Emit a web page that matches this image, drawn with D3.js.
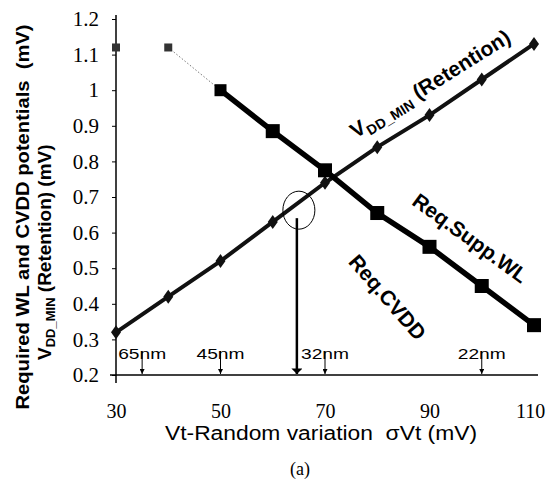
<!DOCTYPE html>
<html><head><meta charset="utf-8">
<script src="https://cdn.jsdelivr.net/npm/d3@7"></script>
<style>
body{margin:0;background:#fff}svg{display:block}
.sans{font-family:"Liberation Sans",Arial,Helvetica,sans-serif}
.serif{font-family:"Liberation Serif","Times New Roman",Times,serif}
.pre{white-space:pre}
</style>
</head><body><svg id="c" width="548" height="488"></svg>
<script>
// ---- data ----
const sigmaVt = [30, 40, 50, 60, 70, 80, 90, 100, 110];
const vddMinRetention = [0.32, 0.42, 0.52, 0.63, 0.74, 0.84, 0.93, 1.03, 1.13];
const reqSuppWL = [1.12, 1.12, 1.0, 0.885, 0.775, 0.655, 0.56, 0.45, 0.34];
const yTicks = [0.2, 0.3, 0.4, 0.5, 0.6, 0.7, 0.8, 0.9, 1.0, 1.1, 1.2];
const yTickLabels = ["0.2","0.3","0.4","0.5","0.6","0.7","0.8","0.9","1","1.1","1.2"];
const xTicks = [30, 50, 70, 90, 110];
const nodeLabels = ["65nm", "45nm", "32nm", "22nm"];
const nodeSigma = [35, 50, 70, 100];
const markedSigma = 65;
const markedValue = 0.663;

// ---- setup ----
const svg = d3.select("#c");
const x = d3.scaleLinear().domain([30, 110]).range([116, 534]);
const y = d3.scaleLinear().domain([0.2, 1.2]).range([375, 19]);
const serifStack = '"Liberation Serif", "Times New Roman", serif';

// axes
const yAxis = svg.append("g").attr("transform", `translate(${x(30)},0)`)
  .call(d3.axisLeft(y).tickValues(yTicks).tickSize(4).tickPadding(13)
    .tickFormat((d, i) => yTickLabels[i]));
yAxis.attr("font-family", null).attr("font-size", null);
yAxis.select(".domain").remove();
yAxis.selectAll("text").style("font-family", serifStack).style("font-size", "21px").attr("fill", "#000");
yAxis.selectAll("line").attr("stroke", "#000").attr("stroke-width", 1);

const xAxis = svg.append("g").attr("transform", `translate(0,${y(0.2)})`)
  .call(d3.axisBottom(x).tickValues(xTicks).tickSize(0).tickPadding(29).tickFormat(d3.format("d")));
xAxis.attr("font-family", null).attr("font-size", null);
xAxis.select(".domain").remove();
xAxis.selectAll("text").style("font-family", serifStack).style("font-size", "20px").attr("fill", "#000")
  .attr("dx", d => d === 110 ? -4 : 0);

// axis lines
svg.append("line").attr("x1", x(30)).attr("x2", x(30)).attr("y1", y(1.2) - 4).attr("y2", y(0.2) + 8)
  .attr("stroke", "#000").attr("stroke-width", 1.5);
svg.append("line").attr("x1", x(30) - 6).attr("x2", x(110) + 4).attr("y1", y(0.2)).attr("y2", y(0.2))
  .attr("stroke", "#000").attr("stroke-width", 1.5);

// markers
const defs = svg.append("defs");
defs.append("marker").attr("id", "sm").attr("viewBox", "0 0 10 10").attr("refX", 10).attr("refY", 5)
  .attr("markerWidth", 5).attr("markerHeight", 5).attr("orient", "auto")
  .append("path").attr("d", "M0,0L10,5L0,10Z").attr("fill", "#000");
defs.append("marker").attr("id", "big").attr("viewBox", "0 0 10 20").attr("refX", 10).attr("refY", 10)
  .attr("markerWidth", 22).attr("markerHeight", 11).attr("markerUnits", "userSpaceOnUse").attr("orient", "auto")
  .append("path").attr("d", "M0,0L10,10L0,20Z").attr("fill", "#000");

// technology node ticks
nodeSigma.forEach((s, i) => {
  svg.append("line").attr("x1", x(s)).attr("x2", x(s)).attr("y1", 351).attr("y2", y(0.2) - 1)
    .attr("stroke", "#000").attr("stroke-width", 1).attr("marker-end", "url(#sm)");
  svg.append("text").attr("class", "sans").attr("x", x(s)).attr("y", 359).attr("text-anchor", "middle")
    .style("font-size", "15px").attr("textLength", 48)
    .attr("lengthAdjust", "spacingAndGlyphs").text(nodeLabels[i]);
});

// lines
const pts1 = sigmaVt.map((s, i) => [x(s), y(vddMinRetention[i])]);
const pts2 = sigmaVt.map((s, i) => [x(s), y(reqSuppWL[i])]);
const line = d3.line();

svg.append("path").attr("d", line(pts1)).attr("fill", "none").attr("stroke", "#111").attr("stroke-width", 4);
// gaps inside circle
svg.append("path").attr("d", line([[x(63.2), y(0.645)], [x(64.4), y(0.657)]]))
  .attr("stroke", "#fff").attr("stroke-width", 6);
svg.append("path").attr("d", line([[x(65.6), y(0.670)], [x(66.6), y(0.681)]]))
  .attr("stroke", "#fff").attr("stroke-width", 6);

svg.selectAll(".dia").data(pts1).join("path").attr("class", "dia")
  .attr("transform", d => `translate(${d[0]},${d[1]})`)
  .attr("d", "M0,-7L5,0L0,7L-5,0Z").attr("fill", "#111");

svg.append("path").attr("d", line(pts2.slice(1, 3))).attr("fill", "none")
  .attr("stroke", "#777").attr("stroke-width", 1).attr("stroke-dasharray", "1.5,2");
svg.append("path").attr("d", line(pts2.slice(2))).attr("fill", "none").attr("stroke", "#000").attr("stroke-width", 5.5);
const half = i => (i < 2 ? 4 : i === 2 ? 6 : 7);
svg.selectAll(".sq").data(pts2).join("rect").attr("class", "sq")
  .attr("x", (d, i) => d[0] - half(i)).attr("y", (d, i) => d[1] - half(i))
  .attr("width", (d, i) => 2 * half(i)).attr("height", (d, i) => 2 * half(i))
  .attr("fill", (d, i) => i < 2 ? "#333" : "#000");

// circle + arrow
svg.append("ellipse").attr("cx", x(markedSigma)).attr("cy", y(markedValue)).attr("rx", 16).attr("ry", 19)
  .attr("fill", "none").attr("stroke", "#000").attr("stroke-width", 1);
svg.append("line").attr("x1", x(markedSigma) - 2).attr("x2", x(markedSigma) - 2)
  .attr("y1", y(markedValue) + 8).attr("y2", y(0.2) - 1)
  .attr("stroke", "#000").attr("stroke-width", 2.5).attr("marker-end", "url(#big)");

// annotations
const vdd = svg.append("text").attr("class", "sans").attr("transform", "translate(434,90) rotate(-32)")
  .attr("text-anchor", "middle").style("font-weight", "bold").style("font-size", "21px");
vdd.append("tspan").text("V");
vdd.append("tspan").style("font-size", "14px").attr("dy", 5).text("DD_MIN");
vdd.append("tspan").attr("dy", -5).text(" (Retention)");

svg.append("text").attr("class", "sans").attr("transform", "translate(466,244) rotate(36)").attr("text-anchor", "middle")
  .style("font-weight", "bold").style("font-size", "21px").text("Req.Supp.WL");
svg.append("text").attr("class", "sans").attr("transform", "translate(382,302) rotate(49)").attr("text-anchor", "middle")
  .style("font-weight", "bold").style("font-size", "21px").text("Req.CVDD");

// axis titles
svg.append("text").attr("class", "sans pre").attr("transform", "translate(29,217) rotate(-90)").attr("text-anchor", "middle")
  .style("font-weight", "bold").style("font-size", "19px")
  .attr("textLength", 385).attr("lengthAdjust", "spacingAndGlyphs")
  .text("Required WL and CVDD potentials  (mV)");
const yl2 = svg.append("text").attr("class", "sans").attr("transform", "translate(51,360) rotate(-90)").attr("text-anchor", "start")
  .style("font-weight", "bold").style("font-size", "19px");
yl2.append("tspan").text("V");
yl2.append("tspan").style("font-size", "13px").attr("dy", 4).text("DD_MIN");
yl2.append("tspan").attr("dy", -4).text(" (Retention) (mV)");

svg.append("text").attr("class", "sans pre").attr("x", 321).attr("y", 440).attr("text-anchor", "middle")
  .style("font-size", "20px")
  .attr("textLength", 312).attr("lengthAdjust", "spacingAndGlyphs")
  .text("Vt-Random variation  \u03c3Vt (mV)");

svg.append("text").attr("class", "serif").attr("x", 300).attr("y", 475).attr("text-anchor", "middle")
  .style("font-size", "18px").text("(a)");
</script></body></html>
